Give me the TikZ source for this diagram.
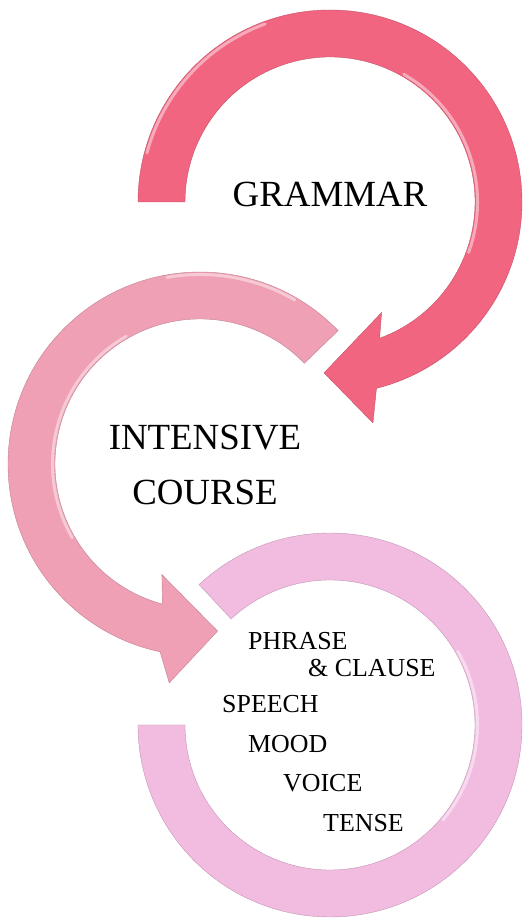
\documentclass[tikz,border=0pt]{standalone}
\usepackage{fontspec}
\setmainfont{Liberation Serif}
\usetikzlibrary{calc}

\definecolor{grammarred}{RGB}{241,101,128}
\definecolor{coursepink}{RGB}{240,160,180}
\definecolor{topiclilac}{RGB}{242,188,224}

\begin{document}
\begin{tikzpicture}[x=1bp, y=1bp,
  ring/.style={fill=#1, draw=#1!80!black, line width=0.4pt, line join=miter},
  shine/.style={draw=white, opacity=0.45, line width=3pt, line cap=round},
  big/.style={font=\fontsize{37}{44}\selectfont, inner sep=0pt, anchor=base},
  small/.style={font=\fontsize{26}{31}\selectfont, inner sep=0pt, anchor=base west}]

 \useasboundingbox (0,0) rectangle (523,919);

 \coordinate (ctop) at (330,717);
 \coordinate (cmid) at (200,455);
 \coordinate (cbot) at (330,194);

 % grammar arrow
 \path[ring=grammarred] ($(ctop)+(180:192)$) arc[start angle=180, end angle=-76, radius=192]
   -- ($(ctop)+(-79:225)$) -- ($(ctop)+(-92:171)$) -- ($(ctop)+(-65:122)$)
   -- ($(ctop)+(-70:145)$) arc[start angle=-70, end angle=180, radius=145] -- cycle;
 \draw[shine] ($(ctop)+(60:147.5)$) arc[start angle=60, end angle=-20, radius=147.5];
 \draw[shine] ($(ctop)+(165:189.5)$) arc[start angle=165, end angle=110, radius=189.5];

 % course arrow
 \path[ring=coursepink] ($(cmid)+(44:192)$) arc[start angle=44, end angle=258, radius=192]
   -- ($(cmid)+(262:221)$) -- ($(cmid)+(276:168)$) -- ($(cmid)+(251:117)$)
   -- ($(cmid)+(255:145)$) arc[start angle=255, end angle=44, radius=145] -- cycle;
 \draw[shine] ($(cmid)+(120:147.5)$) arc[start angle=120, end angle=210, radius=147.5];
 \draw[shine] ($(cmid)+(100:189.5)$) arc[start angle=100, end angle=60, radius=189.5];

 % topics ring
 \path[ring=topiclilac] ($(cbot)+(133:192)$) arc[start angle=133, end angle=-180, radius=192]
   -- ($(cbot)+(180:145)$) arc[start angle=-180, end angle=133, radius=145] -- cycle;
 \draw[shine] ($(cbot)+(30:147.5)$) arc[start angle=30, end angle=-40, radius=147.5];
 %\draw[shine] ($(cbot)+(-150:189.5)$) arc[start angle=-150, end angle=-120, radius=189.5];

 \node[big] (grammar) at (330,712) {GRAMMAR};
 \node[big] (intensive) at (205,469) {INTENSIVE};
 \node[big] (course) at (205,414) {COURSE};

 \node[small] (phrase) at (248,269) {PHRASE};
 \node[small] (clause) at (308,242) {\& CLAUSE};
 \node[small] (speech) at (222,206) {SPEECH};
 \node[small] (mood) at (248,166) {MOOD};
 \node[small] (voice) at (283,127) {VOICE};
 \node[small] (tense) at (323,87) {TENSE};
\end{tikzpicture}
\end{document}
